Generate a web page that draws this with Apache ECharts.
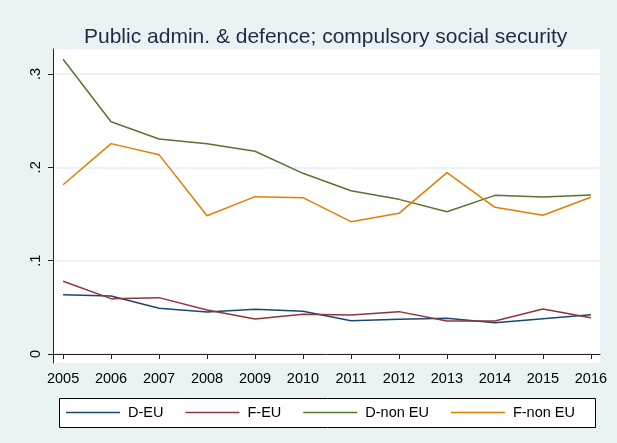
<!DOCTYPE html>
<html>
<head>
<meta charset="utf-8">
<title>Public admin. & defence</title>
<script src="https://cdn.jsdelivr.net/npm/echarts@6/dist/echarts.min.js"></script>
<style>
  html, body { margin: 0; padding: 0; background: #eaf2f3; }
  #chart { width: 617px; height: 443px; }
</style>
</head>
<body>
<div id="chart"></div>
<script>
// data
const years = [2005, 2006, 2007, 2008, 2009, 2010, 2011, 2012, 2013, 2014, 2015, 2016]
const dEu = [0.0636, 0.0621, 0.0490, 0.0450, 0.0479, 0.0457, 0.0357, 0.0372, 0.0382, 0.0336, 0.0379, 0.0421]
const fEu = [0.0779, 0.0593, 0.0604, 0.0471, 0.0375, 0.0425, 0.0418, 0.0454, 0.0354, 0.0354, 0.0482, 0.0389]
const dNonEu = [0.3158, 0.2489, 0.2304, 0.2254, 0.2172, 0.1936, 0.1750, 0.1657, 0.1525, 0.1700, 0.1682, 0.1704]
const fNonEu = [0.1814, 0.2254, 0.2136, 0.1482, 0.1686, 0.1675, 0.1418, 0.1507, 0.1943, 0.1572, 0.1486, 0.1679]
const yTicks = [0, 0.1, 0.2, 0.3]
const seriesNames = ['D-EU', 'F-EU', 'D-non EU', 'F-non EU']
const colors = ['#1a476f', '#90353b', '#55752f', '#e37e00']

const pairs = arr => years.map((y, i) => [y, arr[i]])

const dom = echarts.init(document.getElementById('chart'))
const font = 'Liberation Sans, Arial, sans-serif'

const option = {
  backgroundColor: '#eaf2f3',
  animation: false,
  color: colors,
  title: {
    text: 'Public admin. & defence; compulsory social security',
    left: 84,
    top: 27,
    padding: 0,
    textStyle: {
      color: '#1c2b45',
      fontFamily: font,
      fontSize: 21,
      fontWeight: 'normal'
    }
  },
  grid: {
    left: 53,
    right: 17,
    top: 49,
    bottom: 80,
    show: true,
    backgroundColor: '#ffffff',
    borderWidth: 0
  },
  // legend box drawn by hand, legend itself has no border
  graphic: [
    {
      type: 'rect',
      shape: { x: 59.5, y: 398.5, width: 536, height: 29 },
      style: { fill: '#ffffff', stroke: '#000000', lineWidth: 1 },
      z: 0
    }
  ],
  legend: {
    data: seriesNames,
    icon: 'rect', // plain line, no circle
    left: 66,
    top: 405,
    padding: 0,
    itemWidth: 54,
    itemHeight: 1.5,
    itemGap: 22,
    textStyle: {
      color: '#000',
      fontFamily: font,
      fontSize: 14.5,
      padding: [0, 0, 0, 3]
    },
    z: 10
  },
  xAxis: {
    type: 'value',
    min: 2004.79,
    max: 2016.19,
    axisLine: { lineStyle: { color: '#222', width: 1 } },
    axisTick: { length: 5, lineStyle: { color: '#222' }, customValues: years },
    axisLabel: {
      customValues: years,
      color: '#000',
      fontFamily: font,
      fontSize: 14.5,
      margin: 8,
      formatter: v => String(v)
    },
    splitLine: { show: false }
  },
  yAxis: {
    type: 'value',
    min: -0.00964,
    max: 0.3268,
    axisLine: { show: true, lineStyle: { color: '#222', width: 1 } },
    axisTick: { show: true, length: 5, lineStyle: { color: '#222' }, customValues: yTicks },
    axisLabel: {
      customValues: yTicks,
      rotate: 90,
      color: '#000',
      fontFamily: font,
      fontSize: 14.5,
      margin: 10,
      formatter: v => v === 0 ? '0' : String(Number(v.toFixed(1))).replace(/^0/, '')
    },
    splitLine: { show: true, lineStyle: { color: '#e6eff1', width: 1.5 } }
  },
  series: [
    { name: seriesNames[0], type: 'line', data: pairs(dEu), symbol: 'none', lineStyle: { width: 1.5 } },
    { name: seriesNames[1], type: 'line', data: pairs(fEu), symbol: 'none', lineStyle: { width: 1.5 } },
    { name: seriesNames[2], type: 'line', data: pairs(dNonEu), symbol: 'none', lineStyle: { width: 1.5 } },
    { name: seriesNames[3], type: 'line', data: pairs(fNonEu), symbol: 'none', lineStyle: { width: 1.5 } }
  ]
}

dom.setOption(option)
</script>
</body>
</html>
